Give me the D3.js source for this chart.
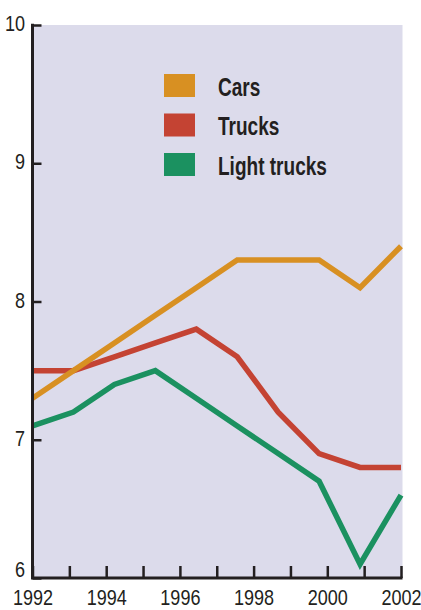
<!DOCTYPE html>
<html>
<head>
<meta charset="utf-8">
<script src="https://cdn.jsdelivr.net/npm/d3@7"></script>
<style>
  html, body { margin: 0; padding: 0; background: #ffffff; }
  svg { display: block; }
  .tick text { font-family: "Liberation Sans", Arial, sans-serif; font-size: 22px; fill: #231f20; }
  .legend text { font-family: "Liberation Sans", Arial, sans-serif; font-weight: bold; font-size: 26px; fill: #231f20; }
</style>
</head>
<body>
<script>
// Observations: ten evenly spaced readings spanning 1992–2002
const observations = [0, 1, 2, 3, 4, 5, 6, 7, 8, 9];
const cars        = [7.3, 7.5, 7.7, 7.9, 8.1, 8.3, 8.3, 8.3, 8.1, 8.4];
const trucks      = [7.5, 7.5, 7.6, 7.7, 7.8, 7.6, 7.2, 6.9, 6.8, 6.8];
const lightTrucks = [7.1, 7.2, 7.4, 7.5, 7.3, 7.1, 6.9, 6.7, 6.1, 6.6];

const seriesNames  = ["Cars", "Trucks", "Light trucks"];
const seriesColors = ["#d89022", "#c44333", "#1b9160"];

const yearTicks  = [1992, 1993, 1994, 1995, 1996, 1997, 1998, 1999, 2000, 2001, 2002];
const valueTicks = [6, 7, 8, 9, 10];

const W = 421, H = 610;
const plotL = 32.5, plotR = 401, plotT = 25, plotB = 578;
const condense = 0.82; // horizontal squeeze for the condensed tick lettering

const svg = d3.select("body").append("svg")
  .attr("width", W).attr("height", H);

const x = d3.scaleLinear().domain([1992, 2002]).range([plotL, plotR]);
const xObs = d3.scaleLinear().domain([0, 9]).range([plotL, plotR]);
const y = d3.scaleLinear().domain([6, 10]).range([plotB, plotT]);

// plot background
svg.append("rect")
  .attr("x", plotL).attr("y", plotT)
  .attr("width", plotR + 1.5 - plotL).attr("height", plotB - plotT)
  .attr("fill", "#dcdbeb");

// legend
const legend = svg.append("g").attr("class", "legend");
const legendTexts = [];
seriesNames.forEach((name, i) => {
  const ly = 74 + i * 39.5;
  legend.append("rect")
    .attr("x", 164).attr("y", ly)
    .attr("width", 31).attr("height", 23)
    .attr("fill", seriesColors[i]);
  const t = legend.append("text")
    .attr("data-y", ly + 21.5)
    .text(name);
  legendTexts.push(t);
});
// squeeze the legend lettering so the longest label spans 109px
const longest = d3.max(legendTexts, t => t.node().getComputedTextLength());
const legendScale = 109 / longest;
legendTexts.forEach(t => {
  t.attr("transform", `translate(218,${t.attr("data-y")}) scale(${legendScale},1)`);
});

// lines (drawn back to front)
const line = d3.line()
  .x((d, i) => xObs(observations[i]))
  .y(d => y(d));

const drawOrder = [[lightTrucks, 2], [trucks, 1], [cars, 0]];
drawOrder.forEach(([vals, ci]) => {
  svg.append("path")
    .datum(vals)
    .attr("d", line)
    .attr("fill", "none")
    .attr("stroke", seriesColors[ci])
    .attr("stroke-width", 5.5)
    .attr("stroke-linejoin", "miter")
    .attr("stroke-linecap", "butt");
});

// x axis: ticks every year pointing up, labels on even years
const xAxis = d3.axisBottom(x)
  .tickValues(yearTicks)
  .tickSizeInner(-12)
  .tickSizeOuter(0)
  .tickPadding(11.5)
  .tickFormat(d => d % 2 === 0 ? String(d) : "");

const gx = svg.append("g")
  .attr("transform", `translate(0,${plotB})`)
  .call(xAxis);
gx.select(".domain").attr("stroke", "#231f20").attr("stroke-width", 3)
  .attr("d", `M${plotL - 1.5},0H${plotR + 1.5}`);
gx.selectAll(".tick line").attr("stroke", "#231f20").attr("stroke-width", 2.5);
gx.selectAll(".tick text").attr("transform", `scale(${condense},1)`);

// y axis: ticks pointing right
const yAxis = d3.axisLeft(y)
  .tickValues(valueTicks)
  .tickSizeInner(-9)
  .tickSizeOuter(0)
  .tickPadding(9)
  .tickFormat(d3.format("d"));

const gy = svg.append("g")
  .attr("transform", `translate(${plotL},0)`)
  .call(yAxis);
gy.select(".domain").attr("stroke", "#231f20").attr("stroke-width", 3)
  .attr("d", `M0,${plotT - 1.25}V${plotB}`);
gy.selectAll(".tick line").attr("stroke", "#231f20").attr("stroke-width", 2.5);
gy.selectAll(".tick text")
  .attr("transform", `scale(${condense},1)`)
  .attr("dy", "0.25em");
gy.selectAll(".tick text").filter(d => d === 6).attr("dy", "-0.05em");
</script>
</body>
</html>
